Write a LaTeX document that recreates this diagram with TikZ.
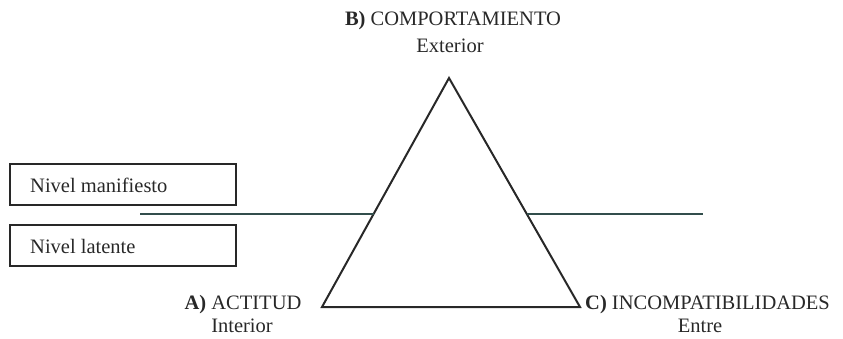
\documentclass[tikz,border=0pt]{standalone}
\usepackage{fontspec}
\setmainfont{Liberation Serif}
\usetikzlibrary{calc}
\definecolor{inkgrey}{RGB}{40,40,40}
\definecolor{levelline}{RGB}{50,78,76}
\tikzset{
  lbl/.style={anchor=base, inner sep=0pt, text=inkgrey,
    font=\fontsize{20.5}{24}\selectfont},
  levelbox/.style={draw=inkgrey, line width=1.8pt, minimum width=226pt,
    minimum height=41pt, inner sep=0pt},
  edge/.style={draw=inkgrey, line width=2pt, line join=miter},
}
\begin{document}
\begin{tikzpicture}[x=1pt,y=-1pt]
      \useasboundingbox (0,0) rectangle (843,338);
      % triangle
      \coordinate (apex) at (449, 78);
      \coordinate (bl) at (322, 307);
      \coordinate (br) at (580, 307);
      \draw[edge] (apex) -- (bl) -- (br) -- cycle;

      % level line
      \coordinate (lcut) at ($(apex)!0.592!(bl)$);
      \coordinate (rcut) at ($(apex)!0.592!(br)$);
      \coordinate (lend) at (140, 0 |- lcut);
      \coordinate (rend) at (703, 0 |- rcut);
      \draw[levelline, line width=2pt] (lend) to (lcut);
      \draw[levelline, line width=2pt] (rcut) to (rend);

      % boxes
      \node[levelbox] (manif) at (123, 184.5){};
      \node[lbl, anchor=base west] (manift) at (30, 192){Nivel manifiesto};
      \node[levelbox] (laten) at (123, 245.5){};
      \node[lbl, anchor=base west] (latent) at (30, 253){Nivel latente};

      % corners
      \node[lbl] (comp) at (453, 25){\textbf{B)} COMPORTAMIENTO};
      \node[lbl] (ext) at (450, 52){Exterior};
      \node[lbl] (act) at (243, 309){\textbf{A)} ACTITUD};
      \node[lbl] (int) at (242, 332){Interior};
      \node[lbl, anchor=base west] (inc) at (585, 309){\textbf{C)} INCOMPATIBILIDADES};
      \node[lbl] (ent) at (700, 332){Entre};
    \end{tikzpicture}
\end{document}
